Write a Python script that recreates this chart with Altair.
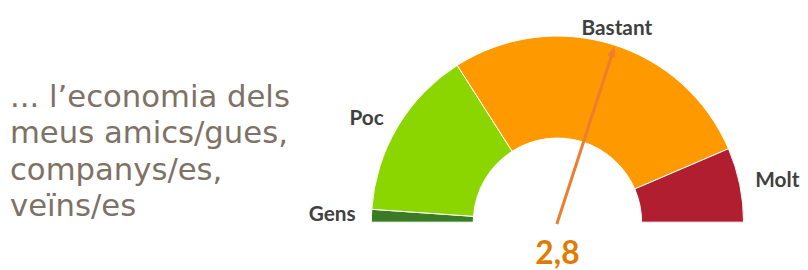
import math
import altair as alt
import pandas as pd

# ---- data ----
categories = ["Gens", "Poc", "Bastant", "Molt"]
shares = [2.2, 29.7, 55.2, 12.9]          # % of answers
colors = ["#3B7A27", "#8BD600", "#FF9900", "#B01E2F"]
score = [2.8]
score_label = ["2,8"]
scale_min, scale_max = 1, 4
question_lines = ["... l\u2019economia dels", "meus amics/gues,", "companys/es,", "veïns/es"]

# ---- layout ----
W, H = 800, 262
CX, CY = 555, 215
R_OUT, R_IN = 188, 85
R_LABEL = 204

df = pd.DataFrame({"cat": categories, "share": shares, "color": colors})
df["end"] = df["share"].cumsum()
df["start"] = df["end"] - df["share"]
df["mid"] = (df["start"] + df["end"]) / 2
df["side"] = ["left" if m < 25 else ("right" if m > 75 else "top") for m in df["mid"]]

theta_scale = alt.Scale(domain=[0, 100], range=[-math.pi / 2, math.pi / 2])

base = alt.Chart(df)

arcs = base.mark_arc(radius=R_OUT, radius2=R_IN, stroke="white", strokeWidth=1).encode(
    theta=alt.Theta("start:Q", scale=theta_scale, stack=None),
    theta2="end:Q",
    color=alt.Color("color:N", scale=None),
    x=alt.value(CX),
    y=alt.value(CY),
)

def label_layer(side, align):
    return base.transform_filter(alt.datum.side == side).mark_text(
        radius=R_LABEL, align=align, baseline="middle",
        font="Lato", fontSize=21, fontWeight="bold", color="#404040",
    ).encode(
        theta=alt.Theta("mid:Q", scale=theta_scale, stack=None),
        text="cat:N",
        x=alt.value(CX),
        y=alt.value(CY),
    )

labels = label_layer("left", "right") + label_layer("top", "center") + label_layer("right", "left")

needle_df = pd.DataFrame({"score": score, "label": score_label})
needle_base = alt.Chart(needle_df).transform_calculate(
    a=f"((datum.score - {scale_min}) / ({scale_max} - {scale_min}) - 0.5) * PI"
).transform_calculate(
    x0=f"{CX} - 2 * sin(datum.a)",
    y0=f"{CY} + 2 * cos(datum.a)",
    x1=f"{CX} + {R_OUT - 7} * sin(datum.a)",
    y1=f"{CY} - {R_OUT - 7} * cos(datum.a)",
    xh=f"{CX} + {R_OUT - 6.5} * sin(datum.a)",
    yh=f"{CY} - {R_OUT - 6.5} * cos(datum.a)",
    deg="datum.a * 180 / PI",
)

needle = needle_base.mark_rule(color="#ED7D31", strokeWidth=3).encode(
    x=alt.X("x0:Q", scale=None),
    y=alt.Y("y0:Q", scale=None),
    x2="x1:Q",
    y2="y1:Q",
)

head = needle_base.mark_point(
    shape="M0,-1L0.75,1L-0.75,1Z", filled=True, size=121, color="#ED7D31", opacity=1
).encode(
    x=alt.X("xh:Q", scale=None),
    y=alt.Y("yh:Q", scale=None),
    angle=alt.Angle("deg:Q", scale=None),
)

value_text = alt.Chart(needle_df).mark_text(
    font="Lato", fontSize=32, fontWeight="bold", color="#E07B00",
    align="center", baseline="alphabetic",
).encode(text="label:N", x=alt.value(CX), y=alt.value(CY + 42))

question = alt.Chart(needle_df).mark_text(
    font="DejaVu Sans", fontSize=31, color="#7E7267",
    align="left", baseline="alphabetic", lineHeight=36.5,
).encode(text=alt.value(question_lines), x=alt.value(2), y=alt.value(99))

chart = (arcs + labels + needle + head + value_text + question).properties(
    width=W, height=H, autosize="none", padding=0
).configure_view(stroke=None)

chart.save("out.html", embed_options={"renderer": "svg", "actions": False})
